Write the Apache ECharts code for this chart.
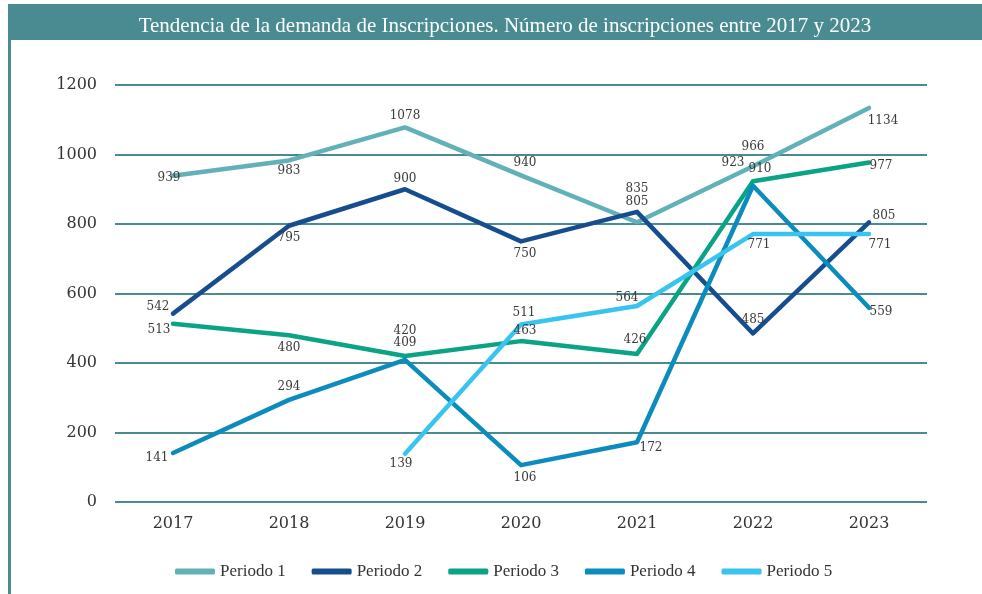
<!DOCTYPE html>
<html>
<head>
<meta charset="utf-8">
<script src="https://cdn.jsdelivr.net/npm/echarts@6/dist/echarts.min.js"></script>
<style>
  html, body { margin: 0; padding: 0; background: #fff; }
  #chart { width: 982px; height: 594px; }
</style>
</head>
<body>
<div id="chart"></div>
<script>
const years = ['2017', '2018', '2019', '2020', '2021', '2022', '2023']
const yTicks = [0, 200, 400, 600, 800, 1000, 1200]
const seriesNames = ['Periodo 1', 'Periodo 2', 'Periodo 3', 'Periodo 4', 'Periodo 5']

const periodo1 = [939, 983, 1078, 940, 805, 966, 1134]
const periodo2 = [542, 795, 900, 750, 835, 485, 805]
const periodo3 = [513, 480, 420, 463, 426, 923, 977]
const periodo4 = [141, 294, 409, 106, 172, 910, 559]
const periodo5 = [null, null, 139, 511, 564, 771, 771]

const colors = ['#62b1b8', '#154d8f', '#0aa386', '#0b8cbd', '#38c4ee']
const teal = '#4a8a91'

// label offsets for each point (px from point), one row per series
const labelOffsets = [
  [[-4, 2], [0, 10], [0, -12], [4, -12], [0, -20], [0, -19], [14, 13]],
  [[-15, -7], [0, 12], [0, -10], [4, 12], [0, -23], [0, -14], [15, -6]],
  [[-14, 6], [0, 13], [0, -25], [4, -10], [-2, -14], [-20, -18], [12, 3]],
  [[-16, 5], [0, -13], [0, -17], [4, 13], [14, 6], [7, -17], [12, 4]],
  [[0, 0], [0, 0], [-4, 10], [3, -12], [-10, -8], [6, 11], [11, 11]],
]

const allData = [periodo1, periodo2, periodo3, periodo4, periodo5]

const chart = echarts.init(document.getElementById('chart'))

let seriesData = []
allData.forEach((arr, i) => {
  seriesData.push({
    name: seriesNames[i],
    type: 'line',
    color: colors[i],
    symbol: 'circle',
    symbolSize: 0.01,
    lineStyle: { width: 4.5, cap: 'round', join: 'round' },
    itemStyle: { color: colors[i] },
    emphasis: { disabled: true },
    data: arr.map((v, j) => ({
      value: v,
      label: {
        show: v != null,
        position: 'inside',
        offset: labelOffsets[i][j],
        color: '#3a3a3a',
        fontFamily: 'DejaVu Serif',
        fontSize: 12,
        formatter: '{c}',
      },
    })),
  })
})

const option = {
  animation: false,
  graphic: [
    { type: 'rect', shape: { x: 8, y: 4, width: 974, height: 36 }, style: { fill: teal } },
    { type: 'rect', shape: { x: 8, y: 40, width: 3, height: 554 }, style: { fill: teal } },
  ],
  title: {
    text: 'Tendencia de la demanda de Inscripciones. Número de inscripciones entre 2017 y 2023',
    left: 500,
    textAlign: 'center',
    top: 11,
    textStyle: {
      color: '#fff',
      fontFamily: 'Liberation Serif',
      fontWeight: 'normal',
      fontSize: 21,
    },
  },
  legend: {
    bottom: 9,
    left: 170,
    itemWidth: 40,
    itemHeight: 6,
    itemGap: 26,
    icon: 'roundRect',
    textStyle: { fontFamily: 'Liberation Serif', fontSize: 17, color: '#333' },
    data: seriesNames,
  },
  grid: { left: 115, right: 55, top: 85, bottom: 92 },
  xAxis: {
    type: 'category',
    data: years,
    boundaryGap: true,
    axisLine: { show: false },
    axisTick: { show: false },
    axisLabel: {
      margin: 14,
      color: '#333',
      fontFamily: 'DejaVu Serif',
      fontSize: 16,
    },
  },
  yAxis: {
    type: 'value',
    min: yTicks[0],
    max: yTicks[yTicks.length - 1],
    interval: 200,
    axisLine: { show: false },
    axisTick: { show: false },
    splitLine: { lineStyle: { color: teal, width: 2 } },
    axisLabel: {
      margin: 18,
      color: '#333',
      fontFamily: 'DejaVu Serif',
      fontSize: 16,
      formatter: (v) => String(v),
    },
  },
  series: seriesData,
}
chart.setOption(option)
</script>
</body>
</html>
